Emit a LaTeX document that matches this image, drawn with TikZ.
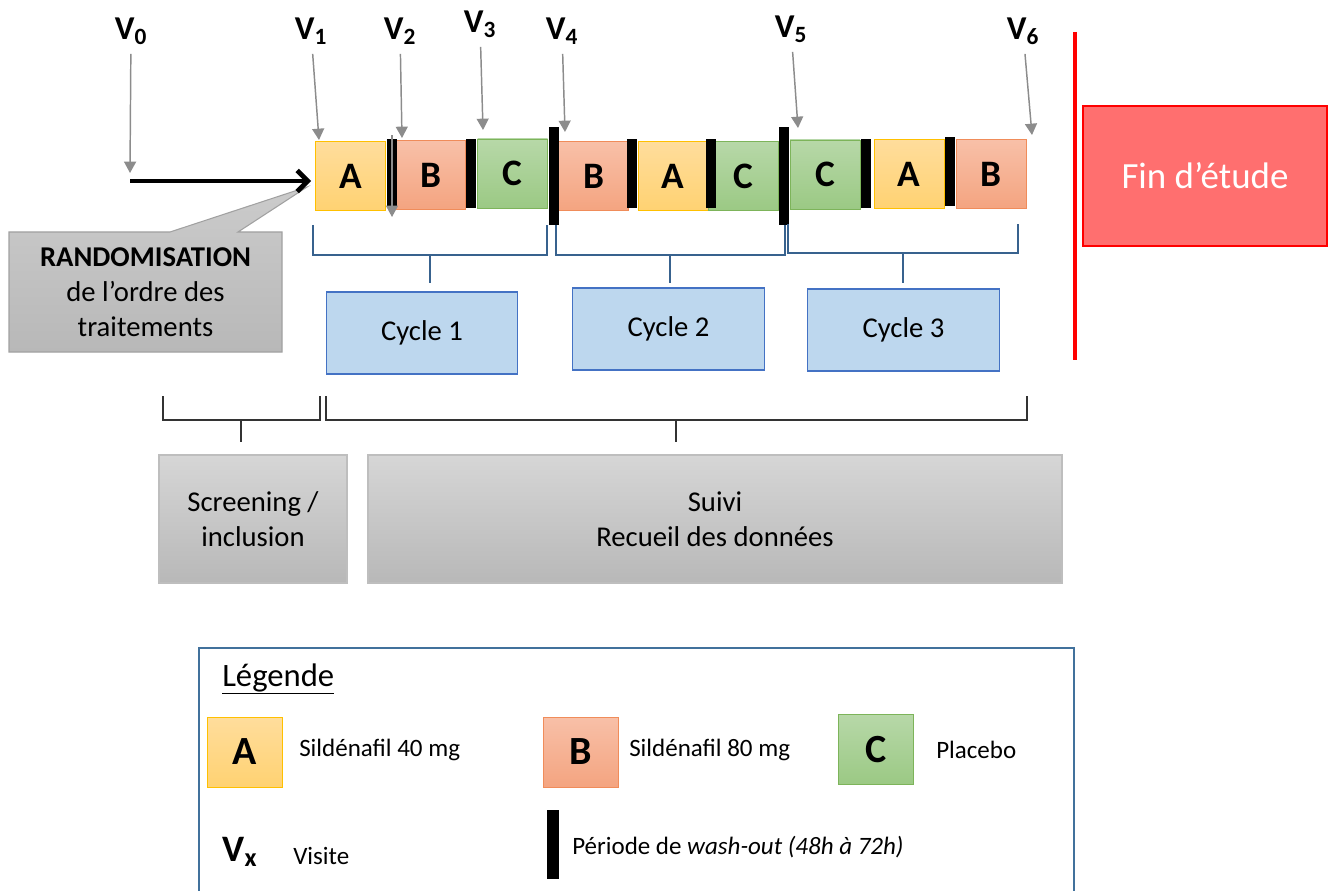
\documentclass[tikz,border=0pt]{standalone}
\usepackage{fontspec}
\setmainfont{Carlito}
\usetikzlibrary{positioning,arrows.meta}

\definecolor{ayel}{RGB}{255,192,0}
\definecolor{ayeltop}{RGB}{255,221,156}
\definecolor{ayelbot}{RGB}{255,210,114}
\definecolor{bsal}{RGB}{240,140,90}
\definecolor{bsaltop}{RGB}{248,192,168}
\definecolor{bsalbot}{RGB}{244,164,128}
\definecolor{cgrn}{RGB}{125,180,90}
\definecolor{cgrntop}{RGB}{183,216,168}
\definecolor{cgrnbot}{RGB}{155,201,132}
\definecolor{cycfill}{RGB}{189,215,238}
\definecolor{cycdraw}{RGB}{68,114,196}
\definecolor{cycbrk}{RGB}{56,98,142}
\definecolor{vgray}{RGB}{140,140,140}
\definecolor{boxtop}{RGB}{214,214,214}
\definecolor{boxbot}{RGB}{184,184,184}
\definecolor{boxdraw}{RGB}{190,190,190}
\definecolor{finfill}{RGB}{255,111,111}
\definecolor{legdraw}{RGB}{65,113,156}

\begin{document}
\begin{tikzpicture}[x=0.75pt,y=0.75pt,yscale=-1,xscale=1,
    blk/.style={inner sep=0pt,minimum width=52.5pt,minimum height=51.75pt,font=\fontsize{28}{33}\selectfont\bfseries},
    trtA/.style={blk,draw=ayel,top color=ayeltop,bottom color=ayelbot},
    trtB/.style={blk,draw=bsal,top color=bsaltop,bottom color=bsalbot},
    trtC/.style={blk,draw=cgrn,top color=cgrntop,bottom color=cgrnbot},
    wash/.style={fill=black,inner sep=0pt,minimum width=7.5pt,minimum height=51.75pt},
    washlong/.style={wash,minimum height=73.5pt},
    visit/.style={inner sep=0pt,font=\fontsize{25}{30}\selectfont\bfseries},
    varrow/.style={draw=vgray,line width=1.1pt,shorten <=7pt,-{Triangle[length=8.5pt,width=9pt]}},
    cycbox/.style={draw=cycdraw,fill=cycfill,line width=0.8pt,minimum width=143.5pt,minimum height=61.5pt,font=\fontsize{21.5}{26}\selectfont},
    cbrk/.style={draw=cycbrk,line width=1.4pt},
    gbrk/.style={draw=black!80,line width=1.4pt},
    graybox/.style={draw=boxdraw,top color=boxtop,bottom color=boxbot,line width=0.8pt,align=center,font=\fontsize{21.5}{26.25}\selectfont},
    legtxt/.style={anchor=west,inner sep=0pt,font=\fontsize{18.75}{22}\selectfont},
    legblk/.style={minimum width=56.25pt,minimum height=52.5pt,font=\fontsize{30}{36}\selectfont\bfseries}
]
    \useasboundingbox (0,0) rectangle (1335,891);

    % Callout
    \path[draw=boxdraw!85!black,top color=boxtop!95!black,bottom color=boxbot,line width=0.8pt] (9,232) -- (170,232) -- (307,187) -- (238,232) -- (282,232) -- (282,352) -- (9,352) -- cycle;
    % Text Node
    \node[align=center,font=\fontsize{21.5}{26.25}\selectfont] (rando) at (145.5,292) {\textbf{RANDOMISATION}\\de l’ordre des\\traitements};

    % Treatment blocks
    \node[trtA] (a1) at (350.5,176) {A};
    \node[trtB] (b1) at (430.5,175) {B};
    \node[trtC] (c1) at (512.5,173.5) {C};
    \node[trtB] (b2) at (593.5,176) {B};
    \node[trtA] (a2) at (673,176) {A};
    \node[trtC] (c2) at (743.5,176) {C};
    \node[trtC] (c3) at (825,174.5) {C};
    \node[trtA] (a3) at (909,174) {A};
    \node[trtB] (b3) at (991,174) {B};

    % Wash-out
    \node[wash] (w1) at (392,174) {};
    \node[wash] (w2) at (470.5,173.5) {};
    \node[washlong] (w3) at (553.5,176) {};
    \node[wash] (w4) at (631.5,173.5) {};
    \node[wash] (w5) at (710.5,173.5) {};
    \node[washlong] (w6) at (783.5,176) {};
    \node[wash] (w7) at (866,173.5) {};
    \node[wash] (w8) at (950,171.5) {};

    % Text Node
    \node[visit] (v0) at (131,31) {V\textsubscript{0}};
    \node[visit] (v1) at (311,31) {V\textsubscript{1}};
    \node[visit] (v2) at (400,31) {V\textsubscript{2}};
    \node[visit] (v3) at (480,24) {V\textsubscript{3}};
    \node[visit] (v4) at (562,31) {V\textsubscript{4}};
    \node[visit] (v5) at (791,29) {V\textsubscript{5}};
    \node[visit] (v6) at (1023,31) {V\textsubscript{6}};

    \coordinate (t0) at (130,173);
    \coordinate (t1) at (319,140);
    \coordinate (t2) at (402,138);
    \coordinate (t3) at (483,130);
    \coordinate (t4) at (565,132);
    \coordinate (t5) at (798,128);
    \coordinate (t6) at (1032,135);
    \coordinate (x2s) at (392,126);
    \coordinate (x2t) at (392,217);
    \coordinate (start) at (130,181);

    % Connection
    \draw[varrow] (v0) -- (t0);
    \draw[varrow] (v1) -- (t1);
    \draw[varrow] (v2) -- (t2);
    \draw[varrow] (v3) -- (t3);
    \draw[varrow] (v4) -- (t4);
    \draw[varrow] (v5) -- (t5);
    \draw[varrow] (v6) -- (t6);
    \draw[varrow] (x2s) -- (x2t);
    % Connection
    \draw[line width=3.6pt,-{Straight Barb[length=8pt,width=16pt]}] (start) -- ([xshift=-3pt]a1.west |- start);

    % Cycles
    \draw[cbrk] (313,225) |- (547,255) -- (547,225);
    \draw[cbrk] (430,255) -- (430,283);
    \draw[cbrk] (556,225) |- (785,255) -- (785,225);
    \draw[cbrk] (670,255) -- (670,283);
    \draw[cbrk] (788,224) |- (1018,253) -- (1018,224);
    \draw[cbrk] (903,253) -- (903,283);
    \node[cycbox] (cyc1) at (422,333) {Cycle 1};
    \node[cycbox] (cyc2) at (668.5,329) {Cycle 2};
    \node[cycbox] (cyc3) at (903.5,330) {Cycle 3};

    % End of study
    \draw[red,line width=3.4pt] (1075,32) -- (1075,360);
    \node[draw=red,fill=finfill,line width=1.5pt,minimum width=183pt,minimum height=105pt,text=white,font=\fontsize{27.7}{33}\selectfont] (fin) at (1205,176) {Fin d’étude};

    % Phases
    \draw[gbrk] (163,396) |- (320,420) -- (320,396);
    \draw[gbrk] (241,420) -- (241,442);
    \draw[gbrk] (326,396) |- (1027,420) -- (1027,396);
    \draw[gbrk] (676,420) -- (676,442);
    \node[graybox,minimum width=141pt,minimum height=96pt] (scr) at (253,519) {Screening /\\inclusion};
    \node[graybox,minimum width=520.5pt,minimum height=96pt] (suivi) at (715,519) {Suivi\\Recueil des données};

    % Legend
    \draw[legdraw,line width=1.5pt] (199,891) -- (199,648) -- (1074,648) -- (1074,891);
    \node[anchor=west,inner sep=0pt,font=\fontsize{24.5}{29}\selectfont] (leg) at (222,679) {\underline{Légende}};
    \node[trtA,legblk] (la) at (244.5,752) {A};
    \node[trtB,legblk] (lb) at (580.5,752) {B};
    \node[trtC,legblk] (lc) at (876,749.5) {C};
    \node[legtxt] (lat) at (299,750) {Sildénafil 40 mg};
    \node[legtxt] (lbt) at (629,750) {Sildénafil 80 mg};
    \node[legtxt] (lct) at (936,750) {Placebo};
    \node[visit,font=\fontsize{28}{33}\selectfont\bfseries] (lv) at (240,852) {V\textsubscript{x}};
    \node[legtxt] (lvt) at (293,856) {Visite};
    \node[wash,minimum width=9pt] (lw) at (553,844.5) {};
    \node[legtxt] (lwt) at (572,847) {Période de \textit{wash-out (48h à 72h)}};

\end{tikzpicture}
\end{document}
